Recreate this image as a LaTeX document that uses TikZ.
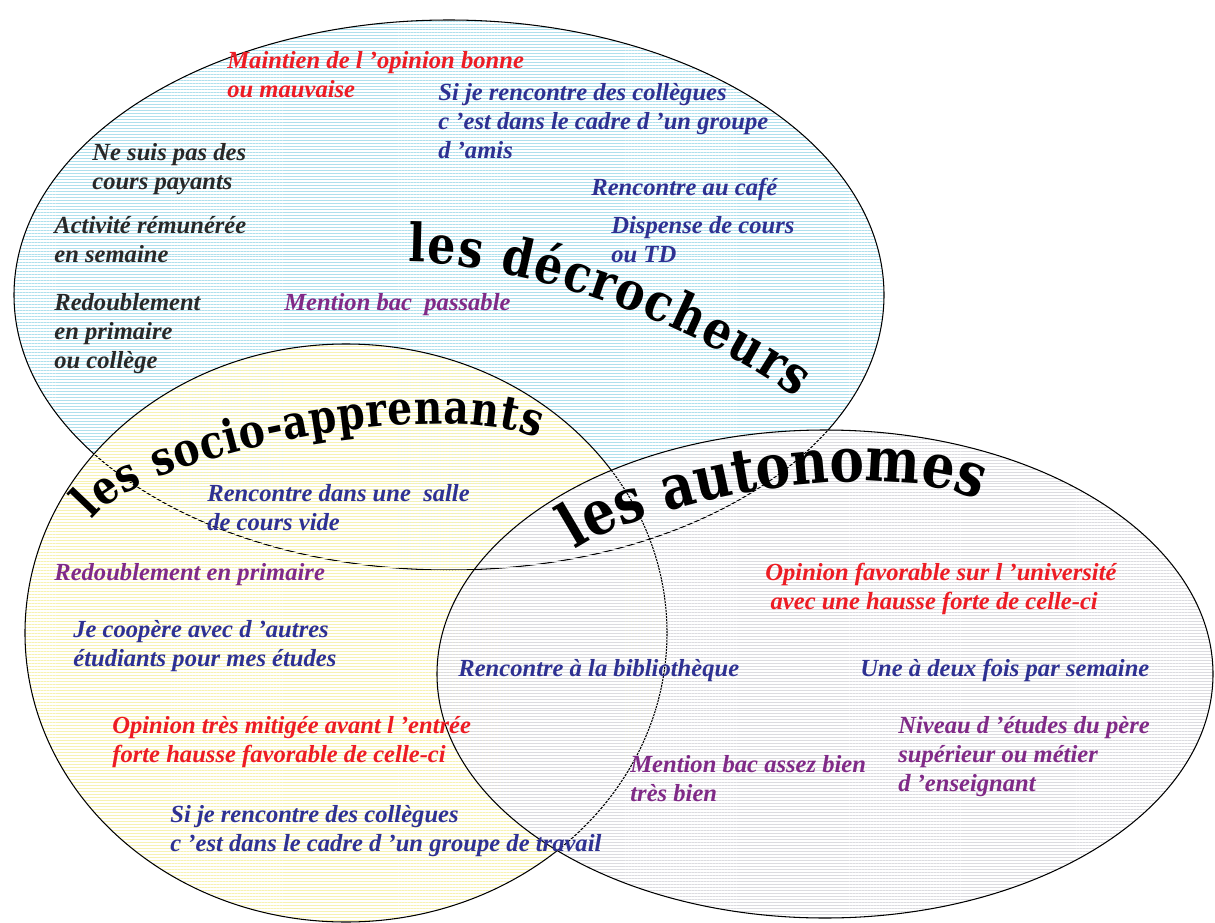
\documentclass[tikz,border=0pt]{standalone}
\usepackage{fontspec}
\setmainfont{Liberation Serif}
\newfontfamily\arcfam[FakeStretch=0.84]{DejaVu Serif}
\usetikzlibrary{patterns.meta,decorations.text}

\definecolor{encre}{RGB}{46,49,146}
\definecolor{rouge}{RGB}{237,28,36}
\definecolor{mauve}{RGB}{128,42,135}
\definecolor{sombre}{RGB}{40,40,40}
\definecolor{hachbleu}{RGB}{175,224,237}
\definecolor{hachjaune}{RGB}{247,242,178}
\definecolor{hachgris}{RGB}{220,220,224}
\newcommand\arcfont[1]{\arcfam\bfseries\fontsize{#1}{#1}\selectfont}

\begin{document}
\begin{tikzpicture}[x=0.02cm,y=-0.02cm,
  txt/.style={anchor=north west,inner sep=0pt,align=left,
    font=\fontsize{14}{16.5}\selectfont\bfseries\itshape},
  hach/.style={pattern={Lines[angle=0,distance=1.7pt,line width=0.5pt]},pattern color=#1},
  contour/.style={draw=black,line width=0.6pt}]
  \useasboundingbox (0,0) rectangle (1215,923);
  \coordinate (D) at (449,295);
  \coordinate (S) at (346,633);
  \coordinate (A) at (825,674);
  \path[hach=hachbleu] (D) ellipse[x radius=435,y radius=275];
  \path[contour] (D) ellipse[x radius=435,y radius=275];
  \path[hach=hachjaune] (S) ellipse[x radius=321,y radius=289];
  \path[contour] (S) ellipse[x radius=321,y radius=289];
  \path[hach=hachgris] (A) ellipse[x radius=388,y radius=244];
  \path[contour] (A) ellipse[x radius=388,y radius=244];
  % titres courbes
  \path[decorate,decoration={text along path,text align=fit to path,
    text={|\arcfont{30}|les décrocheurs}}]
    (408,262) .. controls (520,262) and (692,322) .. (796,398);
  \path[decorate,decoration={text along path,text align=fit to path,
    text={|\arcfont{26.5}|les socio-apprenants}}]
    (92,520) .. controls (133,461) and (420,394) .. (538,438);
  \path[decorate,decoration={text along path,text align=fit to path,
    text={|\arcfont{35}|les autonomes}}]
    (575,550) .. controls (640,505) and (860,455) .. (972,497);
  % decrocheurs
  \node[txt,text=rouge] (maintien) at (227,51) {Maintien de l 'opinion bonne\\ou mauvaise};
  \node[txt,text=encre] (amis) at (438,83) {Si je rencontre des collègues\\c 'est dans le cadre d 'un groupe\\d 'amis};
  \node[txt,text=sombre] (payants) at (92,143) {Ne suis pas des\\cours payants};
  \node[txt,text=encre] (cafe) at (591,178) {Rencontre au café};
  \node[txt,text=sombre] (activite) at (54,216) {Activité rémunérée\\en semaine};
  \node[txt,text=encre] (dispense) at (611,216) {Dispense de cours\\ou TD};
  \node[txt,text=sombre] (redcol) at (54,293) {Redoublement\\en primaire\\ou collège};
  \node[txt,text=mauve] (passable) at (284,293) {Mention bac\ \ passable};
  % socio-apprenants
  \node[txt,text=encre] (salle) at (207,484) {Rencontre dans une\ \ salle\\de cours vide};
  \node[txt,text=mauve] (redprim) at (54,563) {Redoublement en primaire};
  \node[txt,text=encre] (coopere) at (73,620) {Je coopère avec d 'autres\\étudiants pour mes études};
  \node[txt,text=rouge] (mitigee) at (112,716) {Opinion très mitigée avant l 'entrée\\forte hausse favorable de celle-ci};
  \node[txt,text=encre] (travail) at (170,805) {Si je rencontre des collègues\\c 'est dans le cadre d 'un groupe de travail};
  % autonomes
  \node[txt,text=rouge] (favorable) at (765,563) {Opinion favorable sur l 'université\\\hspace*{3pt}avec une hausse forte de celle-ci};
  \node[txt,text=encre] (biblio) at (458,659) {Rencontre à la bibliothèque};
  \node[txt,text=encre] (semaine) at (860,659) {Une à deux fois par semaine};
  \node[txt,text=mauve] (pere) at (898,716) {Niveau d 'études du père\\supérieur ou métier\\d 'enseignant};
  \node[txt,text=mauve] (assez) at (630,755) {Mention bac assez bien\\très bien};
\end{tikzpicture}
\end{document}
